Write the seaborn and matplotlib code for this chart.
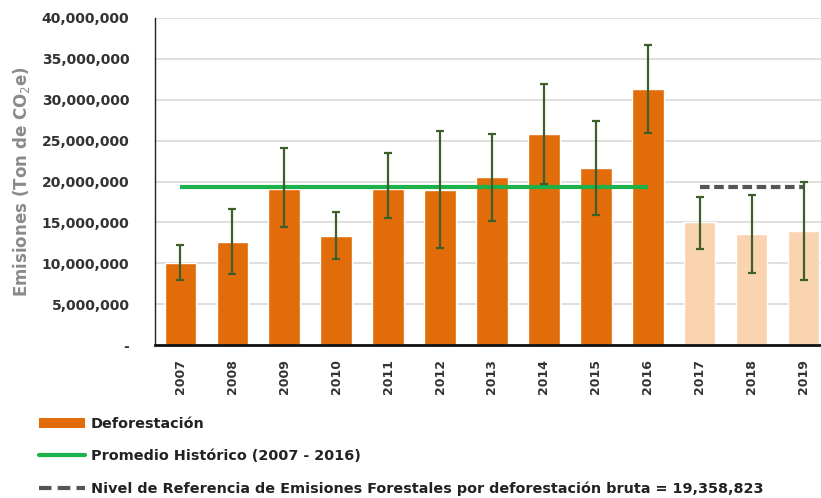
import matplotlib
matplotlib.use("Agg")
import matplotlib.pyplot as plt
import seaborn as sns
import numpy as np
import pandas as pd
from matplotlib.patches import Patch
from matplotlib.lines import Line2D
from matplotlib.ticker import FuncFormatter

years = ["2007", "2008", "2009", "2010", "2011", "2012", "2013",
         "2014", "2015", "2016", "2017", "2018", "2019"]
emissions = [10.05e6, 12.6e6, 19.1e6, 13.4e6, 19.1e6, 19.0e6, 20.5e6,
             25.8e6, 21.6e6, 31.3e6, 15.0e6, 13.6e6, 13.9e6]
err_high = [12.2e6, 16.7e6, 24.1e6, 16.3e6, 23.5e6, 26.2e6, 25.8e6,
            31.9e6, 27.4e6, 36.7e6, 18.1e6, 18.3e6, 20.0e6]
err_low = [7.95e6, 8.7e6, 14.5e6, 10.5e6, 15.5e6, 11.9e6, 15.2e6,
           19.7e6, 15.9e6, 25.9e6, 11.8e6, 8.8e6, 7.9e6]
historic_avg = 19358823
reference_level = 19358823
historic_years = years[:10]
projected_years = years[10:]

orange = "#E36C0A"
peach = "#FAD4B1"
err_color = "#3E5F2A"
green = "#1DB14B"
dash_gray = "#555555"

sns.set_style("white")
plt.rcParams['font.family'] = ['DejaVu Sans']

df = pd.DataFrame({"year": years, "emissions": emissions})
colors = [orange if y in historic_years else peach for y in years]

fig = plt.figure(figsize=(8.21, 4.98), dpi=100)
ax = fig.add_axes([0.189, 0.307, 0.811, 0.657])

sns.barplot(data=df, x="year", y="emissions", hue="year", palette=colors,
            legend=False, width=0.6, saturation=1, ax=ax, zorder=2)

xpos = np.arange(len(years))
em = np.array(emissions)
yerr = [em - np.array(err_low), np.array(err_high) - em]
ax.errorbar(xpos, em, yerr=yerr, fmt="none", ecolor=err_color,
            elinewidth=1.6, capsize=3, capthick=1.6, zorder=4)

h_idx = [years.index(y) for y in historic_years]
p_idx = [years.index(y) for y in projected_years]
ax.plot([h_idx[0], h_idx[-1]], [historic_avg, historic_avg], color=green,
        lw=3.0, solid_capstyle="butt", zorder=3)
ax.plot([p_idx[0], p_idx[-1]], [reference_level, reference_level],
        color=dash_gray, lw=3.0, ls=(0, (2.3, 1.1)), zorder=3)

ax.set_ylim(0, 40e6)
ax.set_xlim(-0.48, 12.33)
ax.set_yticks(np.arange(0, 40e6 + 1, 5e6))
ax.yaxis.set_major_formatter(FuncFormatter(
    lambda v, p: "-" if v == 0 else f"{int(v):,}"))
ax.grid(axis="y", color="#D9D9D9", lw=1.2, zorder=0)
ax.set_axisbelow(True)
for s in ["top", "right"]:
    ax.spines[s].set_visible(False)
ax.spines["left"].set_color("#222222")
ax.spines["left"].set_linewidth(1.0)
ax.spines["bottom"].set_color("#111111")
ax.spines["bottom"].set_linewidth(2.0)

ax.tick_params(axis="y", length=0, pad=18.5, labelsize=10, labelcolor="#333333")
ax.tick_params(axis="x", length=0, pad=10, labelsize=9, labelcolor="#333333",
               rotation=90)
for lab in ax.get_yticklabels() + ax.get_xticklabels():
    lab.set_fontweight("bold")
    lab.set_fontfamily("DejaVu Sans")
ax.set_xlabel("")
ax.set_ylabel("Emisiones (Ton de CO$_2$e)", fontsize=12, fontweight="bold",
              color="#8A8A8A", labelpad=7, family="DejaVu Sans")

handles = [
    Patch(facecolor=orange, edgecolor="none"),
    Line2D([0], [0], color=green, lw=3),
    Line2D([0], [0], color=dash_gray, lw=3, ls=(0, (3, 1.5))),
]
labels = [
    "Deforestación",
    "Promedio Histórico (2007 - 2016)",
    f"Nivel de Referencia de Emisiones Forestales por deforestación bruta = {reference_level:,}",
]
leg = fig.legend(handles, labels, loc="upper left", bbox_to_anchor=(0.0475, 0.163),
                 frameon=False,
                 prop={"family": "DejaVu Sans", "weight": "bold", "size": 10.4},
                 handlelength=3.2, handletextpad=0.4,
                 labelspacing=1.28, borderpad=0, borderaxespad=0)
for t in leg.get_texts():
    t.set_color("#222222")

fig.savefig("out.png", dpi=100)
